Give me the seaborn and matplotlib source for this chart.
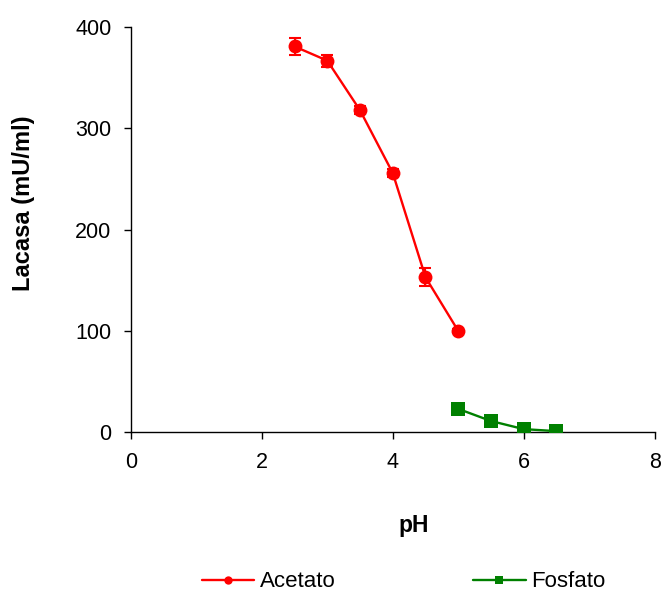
import numpy as np
import pandas as pd
import seaborn as sns
import matplotlib.pyplot as plt

# data
ph_acetato = [2.5, 3.0, 3.5, 4.0, 4.5, 5.0]
lacasa_acetato = [381, 367, 318, 256, 153, 100]
err_acetato = [8, 6, 4, 4, 9, 2]

ph_fosfato = [5.0, 5.5, 6.0, 6.5]
lacasa_fosfato = [23, 11, 3, 1]
err_fosfato = [1, 1, 1, 1]

df = pd.DataFrame({
    'pH': ph_acetato + ph_fosfato,
    'Lacasa': lacasa_acetato + lacasa_fosfato,
    'tampon': ['Acetato'] * len(ph_acetato) + ['Fosfato'] * len(ph_fosfato),
})

sns.set_style('white')
plt.rcParams['font.family'] = ['Liberation Sans', 'DejaVu Sans']
plt.rcParams['text.color'] = 'black'
plt.rcParams['axes.labelcolor'] = 'black'
plt.rcParams['xtick.color'] = 'black'
plt.rcParams['ytick.color'] = 'black'

fig = plt.figure(figsize=(6.64, 5.92), dpi=100)
ax = fig.add_axes([0.197, 0.270, 0.789, 0.684])

colors = {'Acetato': '#ff0000', 'Fosfato': '#008000'}
ax.errorbar(ph_acetato, lacasa_acetato, yerr=err_acetato, fmt='none',
            ecolor=colors['Acetato'], elinewidth=1.5, capsize=4.5, capthick=1.5, zorder=2)
ax.errorbar(ph_fosfato, lacasa_fosfato, yerr=err_fosfato, fmt='none',
            ecolor=colors['Fosfato'], elinewidth=1.5, capsize=4, capthick=1.5, zorder=2)

sns.lineplot(data=df, x='pH', y='Lacasa', hue='tampon', style='tampon',
             markers={'Acetato': 'o', 'Fosfato': 's'}, dashes=False,
             palette=colors, markersize=10, markeredgewidth=0, linewidth=1.7,
             ax=ax, legend=True, zorder=3)

ax.set_xlim(0, 8)
ax.set_ylim(0, 400)
ax.set_xticks([0, 2, 4, 6, 8])
ax.set_yticks([0, 100, 200, 300, 400])
ax.tick_params(axis='both', direction='out', length=5, width=1, labelsize=15.5,
               pad=9, bottom=True, left=True, color='black')
for s in ['top', 'right']:
    ax.spines[s].set_visible(False)
for s in ['left', 'bottom']:
    ax.spines[s].set_color('black')
    ax.spines[s].set_linewidth(1)

ax.set_xlabel('pH', fontsize=16.5, fontweight='bold')
ax.set_ylabel('Lacasa (mU/ml)', fontsize=17, fontweight='bold')
ax.xaxis.set_label_coords(0.540, -0.202)
ax.yaxis.set_label_coords(-0.183, 0.565)

handles, labels = ax.get_legend_handles_labels()
ax.get_legend().remove()
fig.legend(handles, labels, loc='center', bbox_to_anchor=(0.608, 0.017),
           ncol=2, frameon=False, fontsize=16, columnspacing=6.2,
           handlelength=2.35, handletextpad=0.25, markerscale=0.6)

fig.savefig('out.png', dpi=100)
